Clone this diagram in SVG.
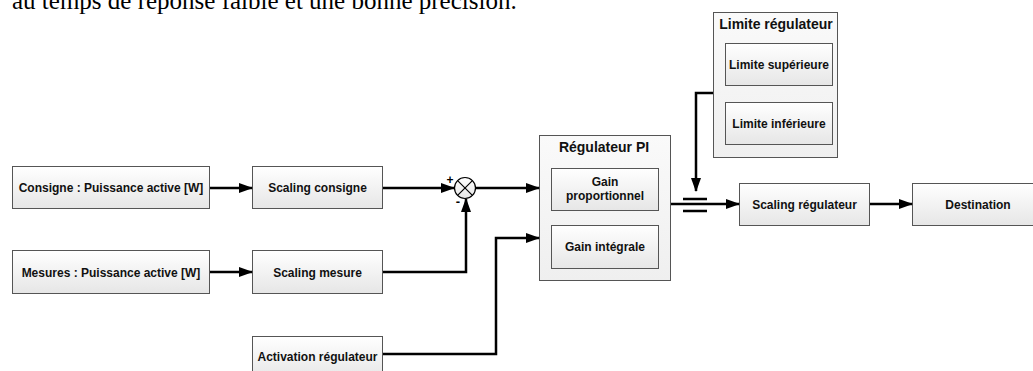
<svg xmlns="http://www.w3.org/2000/svg" width="1033" height="371" viewBox="0 0 1033 371">
<defs>
<linearGradient id="g" x1="0" y1="0" x2="0" y2="1">
<stop offset="0" stop-color="#ffffff"/>
<stop offset="1" stop-color="#e6e6e6"/>
</linearGradient>
<linearGradient id="go" x1="0" y1="0" x2="0" y2="1">
<stop offset="0" stop-color="#fafafa"/>
<stop offset="1" stop-color="#efefef"/>
</linearGradient>
<marker id="ah" markerWidth="14" markerHeight="10" refX="13" refY="5" orient="auto" markerUnits="userSpaceOnUse">
<path d="M0,0 L14,5 L0,10 Z" fill="#000"/>
</marker>
</defs>
<style>
.box{fill:url(#g);stroke:#555;stroke-width:1}
.outer{fill:url(#go);stroke:#555;stroke-width:1}
.t{font-family:"Liberation Sans",Arial,sans-serif;font-size:12px;font-weight:bold;fill:#111;text-anchor:middle}
.title{font-family:"Liberation Sans",Arial,sans-serif;font-size:14px;font-weight:bold;fill:#111;text-anchor:middle}
.c{fill:none;stroke:#000;stroke-width:2.5}
.a{marker-end:url(#ah)}
</style>
<text x="12" y="9" font-family="'Liberation Serif','Times New Roman',serif" font-size="25" fill="#000">au temps de réponse faible et une bonne précision.</text>

<g id="consigne"><rect class="box" x="12.5" y="166.5" width="197" height="42"/><text class="t" x="111" y="192">Consigne : Puissance active [W]</text></g>
<g id="scaling-consigne"><rect class="box" x="252.5" y="166.5" width="130" height="42"/><text class="t" x="317.5" y="192">Scaling consigne</text></g>
<g id="mesures"><rect class="box" x="12.5" y="250.5" width="197" height="43"/><text class="t" x="111" y="276.5">Mesures : Puissance active [W]</text></g>
<g id="scaling-mesure"><rect class="box" x="252.5" y="250.5" width="130" height="43"/><text class="t" x="317.5" y="276.5">Scaling mesure</text></g>
<g id="activation"><rect class="box" x="252.5" y="336.5" width="130" height="43"/><text class="t" x="317.5" y="360.5">Activation régulateur</text></g>

<g id="sum">
<circle cx="465" cy="188" r="10.5" fill="url(#g)" stroke="#000" stroke-width="1.2"/>
<path d="M457.6,180.6 L472.4,195.4 M472.4,180.6 L457.6,195.4" stroke="#000" stroke-width="1.2"/>
<text x="450" y="184" font-family="'Liberation Sans',Arial,sans-serif" font-size="12" font-weight="bold" fill="#000" text-anchor="middle">+</text>
<text x="458" y="206" font-family="'Liberation Sans',Arial,sans-serif" font-size="13" font-weight="bold" fill="#000" text-anchor="middle">-</text>
</g>

<g id="regulateur-pi">
<rect class="outer" x="539.5" y="135.5" width="131" height="145"/>
<text class="title" x="604" y="152">Régulateur PI</text>
<g id="gain-p"><rect class="box" x="551.5" y="168.5" width="107" height="42"/><text class="t" x="605" y="186">Gain</text><text class="t" x="605" y="200">proportionnel</text></g>
<g id="gain-i"><rect class="box" x="551.5" y="225.5" width="107" height="43"/><text class="t" x="605" y="251">Gain intégrale</text></g>
</g>

<g id="limite-regulateur">
<rect class="outer" x="713.5" y="12.5" width="124" height="145"/>
<text class="title" x="776" y="29">Limite régulateur</text>
<g id="limite-sup"><rect class="box" x="725.5" y="43.5" width="107" height="42"/><text class="t" x="779" y="69">Limite supérieure</text></g>
<g id="limite-inf"><rect class="box" x="725.5" y="102.5" width="107" height="42"/><text class="t" x="779" y="128">Limite inférieure</text></g>
</g>

<g id="scaling-regulateur"><rect class="box" x="739.5" y="183.5" width="130" height="42"/><text class="t" x="804.5" y="209">Scaling régulateur</text></g>
<g id="destination"><rect class="box" x="912.5" y="183.5" width="132" height="42"/><text class="t" x="978" y="209">Destination</text></g>

<g id="connectors">
<path class="c a" d="M210,188 H252"/>
<path class="c a" d="M210,272 H252"/>
<path class="c a" d="M383,188 H454"/>
<path class="c a" d="M383,272 H466 V199"/>
<path class="c a" d="M476,188 H539"/>
<path class="c a" d="M383,354 H496 V238 H539"/>
<path class="c a" d="M671,204 H739"/>
<path class="c a" d="M870,204 H912"/>
<path class="c a" d="M713,93 H696 V191"/>
<path d="M683,199 H707 M683,211 H707" stroke="#000" stroke-width="2.5" fill="none"/>
</g>
</svg>
